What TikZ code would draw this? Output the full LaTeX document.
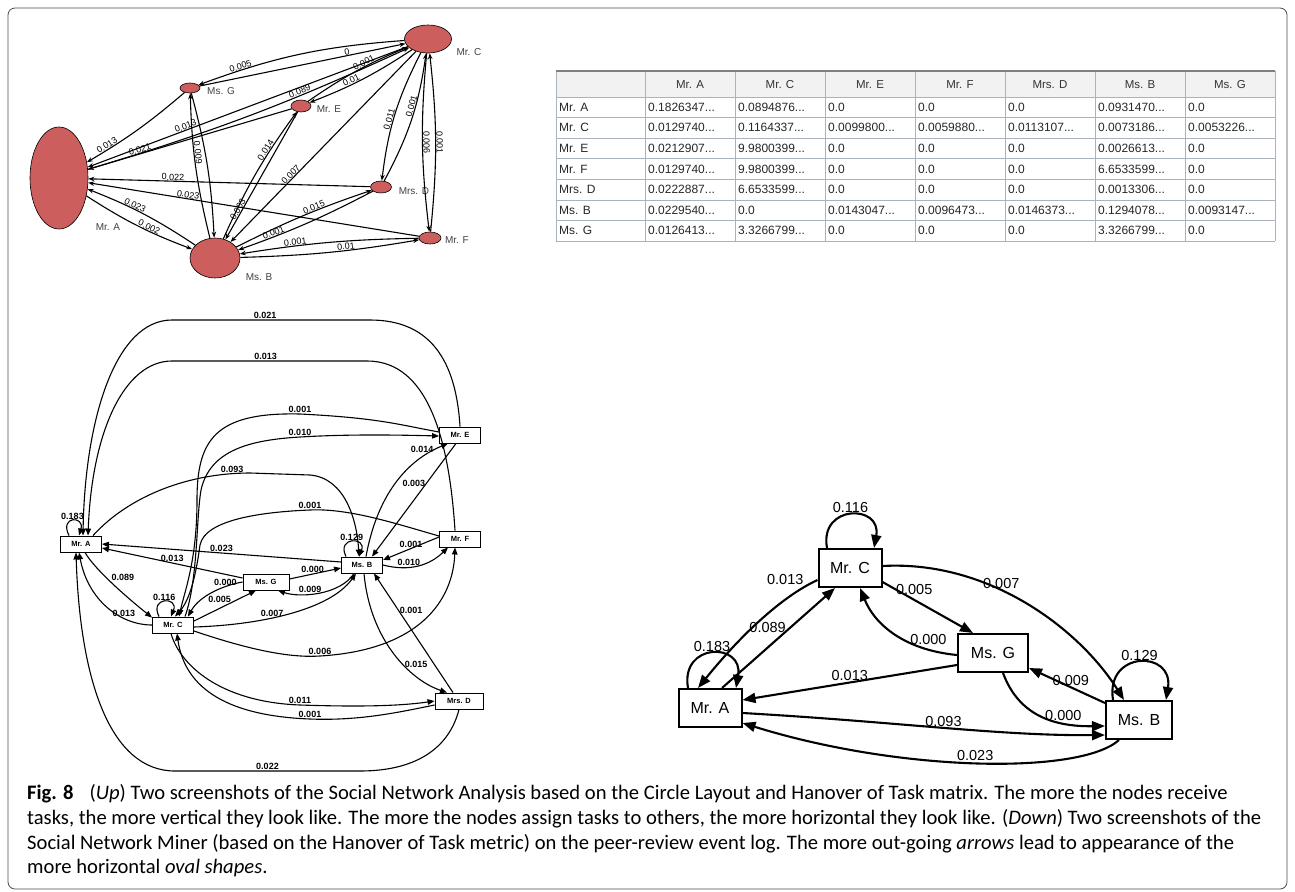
\documentclass[tikz,border=0pt]{standalone}
\usepackage{fontspec}
\setmainfont{Liberation Sans}
\newfontfamily\capfont{Carlito}
\usetikzlibrary{shapes.geometric,arrows.meta}
\definecolor{snared}{RGB}{205,94,94}
\definecolor{tgridc}{RGB}{170,178,188}
\newcommand\tdots{...}

\begin{document}
\begin{tikzpicture}[x=1pt,y=-1pt,
    sna/.style={ellipse,draw,fill=snared,inner sep=0pt,line width=0.6pt},
    snaname/.style={font=\fontsize{10}{10}\selectfont,text=black!75,inner sep=0pt},
    snaedge/.style={line width=1.1pt,-{Stealth[length=6pt,width=4.5pt]}},
    snalab/.style={sloped,above,font=\fontsize{9}{9}\selectfont,inner sep=0.3pt},
    thead/.style={font=\fontsize{11.5}{12}\selectfont,text=black!80,inner sep=0pt},
    tcell/.style={anchor=west,font=\fontsize{12}{12}\selectfont,text=black!85,inner sep=0pt},
    mbox/.style={draw,line width=0.9pt,minimum width=41,minimum height=16,inner sep=0pt,
      font=\bfseries\fontsize{7.5}{8}\selectfont},
    medge/.style={line width=1.1pt,-{Triangle[length=7pt,width=5.5pt]}},
    mlab/.style={font=\bfseries\fontsize{9}{9}\selectfont,inner sep=0.8pt},
    rbox/.style={draw,line width=2pt,minimum width=63,minimum height=38,inner sep=0pt,
      font=\fontsize{16}{16}\selectfont},
    redge/.style={line width=2.1pt,-{Triangle[length=13pt,width=10pt]}},
    rlab/.style={font=\fontsize{14.5}{15}\selectfont,inner sep=1pt},
    captext/.style={anchor=base west,inner sep=0pt,font=\capfont\fontsize{20.6}{24}\selectfont}]
  \useasboundingbox (0,0) rectangle (1295,891);
  \draw[black!70,line width=0.8pt,rounded corners=7pt] (8,8) rectangle (1287,889);

  % circle layout (up, left)
  \node[sna,minimum width=58,minimum height=102] (tA) at (59,178) {};
  \node[sna,minimum width=20,minimum height=10] (tG) at (190,88) {};
  \node[sna,minimum width=50,minimum height=40] (tB) at (215,258) {};
  \node[sna,minimum width=47,minimum height=28] (tC) at (428,39) {};
  \node[sna,minimum width=20,minimum height=12] (tE) at (301,106) {};
  \node[sna,minimum width=21,minimum height=12] (tD) at (381,187) {};
  \node[sna,minimum width=22,minimum height=12] (tF) at (430,238) {};
  \node[snaname] (tAn) at (108,227) {Mr. A};
  \node[snaname] (tGn) at (221,91) {Ms. G};
  \node[snaname] (tBn) at (259,277) {Ms. B};
  \node[snaname] (tCn) at (469,52) {Mr. C};
  \node[snaname] (tEn) at (329,109) {Mr. E};
  \node[snaname] (tDn) at (414,191) {Mrs. D};
  \node[snaname] (tFn) at (457,240) {Mr. F};
  \draw[snaedge] (tC) to[bend right=8] node[snalab,pos=.8] {0.005} (tG);
  \draw[snaedge] (tG) to[bend left=5] node[snalab,pos=.8] {0.013} (tA);
  \draw[snaedge] (tC) -- node[snalab,pos=.69] {0.013} (tA);
  \draw[snaedge] (tE) -- node[snalab,pos=.74] {0.021} (tA);
  \draw[snaedge] (tD) -- node[snalab,pos=.7] {0.022} (tA);
  \draw[snaedge] (tF) -- node[snalab,pos=.7] {0.023} (tA);
  \draw[snaedge] (tB) to[bend right=6] node[snalab,pos=.6] {0.023} (tA);
  \draw[snaedge] (tA) to[bend right=6] node[snalab,pos=.6] {0.002} (tB);
  \draw[snaedge] (tA) to[bend right=4] node[snalab,pos=.67] {0.089} (tC);
  \draw[snaedge] (tG) to[bend left=6] (tB);
  \draw[snaedge] (tB) to[bend left=6] node[snalab,pos=.6] {0.009} (tG);
  \draw[snaedge] (tC) to[bend left=6] node[snalab,pos=.6] {0.01} (tE);
  \draw[snaedge] (tE) to[bend left=6] node[snalab,pos=.6] {0.001} (tC);
  \draw[snaedge] (tG) -- node[snalab,pos=.72] {0} (tC);
  \draw[snaedge] (tB) to[bend left=6] node[snalab,pos=.68] {0.014} (tE);
  \draw[snaedge] (tE) -- node[snalab,pos=.78] {0.003} (tB);
  \draw[snaedge] (tC) -- node[snalab,pos=.66] {0.007} (tB);
  \draw[snaedge] (tC) to[bend right=10] node[snalab,pos=.55] {0.011} (tD);
  \draw[snaedge] (tD) to[bend right=10] node[snalab,pos=.6] {0.001} (tC);
  \draw[snaedge] (tC) to[bend right=6] node[snalab,pos=.5] {0.006} (tF);
  \draw[snaedge] (tF) to[bend right=6] node[snalab,pos=.5] {0.001} (tC);
  \draw[snaedge] (tB) to[bend left=4] node[snalab,pos=.6] {0.015} (tD);
  \draw[snaedge] (tD) to[bend left=4] node[snalab,pos=.75] {0.001} (tB);
  \draw[snaedge] (tB) to[bend right=4] node[snalab,pos=.6] {0.01} (tF);
  \draw[snaedge] (tF) to[bend right=4] node[snalab,pos=.7] {0.001} (tB);

  % handover matrix
  \fill[gray!10] (556,71) rectangle (1275,97);
  \foreach \x in {556,645,735,825,915,1005,1095,1185,1275}
    \draw[tgridc,line width=0.7pt] (\x,71) -- (\x,241);
  \foreach \k in {0,...,7}
    \draw[tgridc,line width=0.7pt] (556,97+20.57*\k) -- (1275,97+20.57*\k);
  \draw[gray,line width=1.6pt] (556,71) -- (1275,71);
  \foreach \h [count=\c] in {Mr. A,Mr. C,Mr. E,Mr. F,Mrs. D,Ms. B,Ms. G}
    \node[thead] (hd\c) at (600+90*\c,85) {\h};
  \foreach \rn/\vals [count=\r] in {
      Mr. A/{0.1826347\tdots,0.0894876\tdots,0.0,0.0,0.0,0.0931470\tdots,0.0},
      Mr. C/{0.0129740\tdots,0.1164337\tdots,0.0099800\tdots,0.0059880\tdots,0.0113107\tdots,0.0073186\tdots,0.0053226\tdots},
      Mr. E/{0.0212907\tdots,9.9800399\tdots,0.0,0.0,0.0,0.0026613\tdots,0.0},
      Mr. F/{0.0129740\tdots,9.9800399\tdots,0.0,0.0,0.0,6.6533599\tdots,0.0},
      Mrs. D/{0.0222887\tdots,6.6533599\tdots,0.0,0.0,0.0,0.0013306\tdots,0.0},
      Ms. B/{0.0229540\tdots,0.0,0.0143047\tdots,0.0096473\tdots,0.0146373\tdots,0.1294078\tdots,0.0093147\tdots},
      Ms. G/{0.0126413\tdots,3.3266799\tdots,0.0,0.0,0.0,3.3266799\tdots,0.0}}{
    \node[tcell] (rh\r) at (559,86.7+20.57*\r) {\rn};
    \foreach \v [count=\c] in \vals
      \node[tcell] (cell-\r-\c) at (558+90*\c,86.7+20.57*\r) {\v};
  }

  % social network miner (down, left)
  \node[mbox] (bA) at (81,544) {Mr. A};
  \node[mbox] (bC) at (173,625) {Mr. C};
  \node[mbox,minimum width=46] (bG) at (266,582) {Ms. G};
  \node[mbox] (bB) at (362,565) {Ms. B};
  \node[mbox] (bF) at (460,539) {Mr. F};
  \node[mbox,minimum width=48] (bD) at (459,701) {Mrs. D};
  \node[mbox] (bE) at (460,435) {Mr. E};
  \draw[medge] ([xshift=-12]bA.north) .. controls +(-10,-20) and +(6,-20) .. ([xshift=-2]bA.north)
    node[mlab,pos=.5,above] {0.183};
  \draw[medge] ([xshift=-14]bC.north) .. controls +(-10,-20) and +(8,-20) .. ([xshift=-2]bC.north)
    node[mlab,pos=.5,above] {0.116};
  \draw[medge] ([xshift=-16]bB.north) .. controls +(-10,-20) and +(8,-20) .. ([xshift=-3]bB.north)
    node[mlab,pos=.5,above] {0.129};
  \draw[medge] (bE.north) .. controls (456,360) and (430,320) .. (370,320)
    -- node[mlab,above,pos=.53] {0.021} (172,320) .. controls (115,320) and (85,420) .. ([xshift=2]bA.north);
  \draw[medge] ([xshift=-5]bF.north) .. controls (448,420) and (420,361) .. (367,361)
    -- node[mlab,above,pos=.52] {0.013} (172,361) .. controls (125,361) and (92,430) .. ([xshift=7]bA.north);
  \draw[medge] ([xshift=12]bA.north) .. controls (130,495) and (190,473) .. (250,473)
    node[mlab,above,pos=.9] {0.093} -- (310,475) .. controls (345,478) and (357,520) .. ([xshift=-3]bB.north);
  \draw[medge] ([yshift=3]bE.west) .. controls (400,425) and (380,418) .. (300,414)
    node[mlab,above] {0.001} .. controls (215,412) and (197,440) .. (197,500)
    .. controls (197,560) and (185,590) .. ([xshift=6]bC.north);
  \draw[medge] ([xshift=12]bC.north) .. controls (198,580) and (196,520) .. (201,490)
    .. controls (210,450) and (250,440) .. (300,437) node[mlab,above] {0.010}
    .. controls (350,434) and (400,435) .. ([yshift=-1]bE.west);
  \draw[medge] ([yshift=3]bF.west) .. controls (400,525) and (350,508) .. (310,510)
    node[mlab,above] {0.001} .. controls (260,512) and (205,520) .. (200,545)
    .. controls (196,575) and (190,600) .. ([xshift=2]bC.north);
  \draw[medge] ([yshift=3]bB.west) -- node[mlab,above,pos=.5] {0.023} (bA.east);
  \draw[medge] ([yshift=4]bG.west) -- node[mlab,above,pos=.5] {0.013} ([yshift=-4]bA.east);
  \draw[medge] ([xshift=4]bA.south) .. controls (95,570) and (130,600) .. ([yshift=-1]bC.north west)
    node[mlab,pos=.45,anchor=south west] {0.089};
  \draw[medge] (bC.west) .. controls (120,625) and (88,600) .. ([xshift=-2]bA.south)
    node[mlab,pos=.3,above] {0.013};
  \draw[medge] (bD.south) .. controls (450,745) and (420,771) .. (360,771)
    -- node[mlab,above,pos=.5] {0.022} (175,771) .. controls (110,771) and (80,680) .. ([xshift=-5]bA.south);
  \draw[medge] ([yshift=4]bC.east) -- node[mlab,pos=.6,above left=-1pt] {0.005} ([xshift=-10]bG.south);
  \draw[medge] (bG.west) .. controls (225,585) and (200,595) .. ([xshift=-6]bC.north east)
    node[mlab,pos=.3,above] {0.000};
  \draw[medge] ([yshift=-2]bC.east) .. controls (260,625) and (330,610) .. ([xshift=-6]bB.south)
    node[mlab,pos=.4,above] {0.007};
  \draw[medge] ([yshift=-6]bC.east) .. controls (250,650) and (290,658) .. (320,656)
    node[mlab,above] {0.006} .. controls (420,650) and (453,600) .. ([xshift=-5]bF.south);
  \draw[medge] ([xshift=-2]bC.south) .. controls (180,665) and (220,702) .. (300,705)
    node[mlab,above] {0.011} .. controls (360,707) and (400,706) .. (bD.west);
  \draw[medge] ([yshift=-4]bD.west) .. controls (400,712) and (360,721) .. (310,719)
    node[mlab,above] {0.001} .. controls (230,716) and (185,690) .. ([xshift=4]bC.south);
  \draw[medge] ([yshift=3]bG.east) -- node[mlab,above,pos=.45] {0.000} ([yshift=-3]bB.west);
  \draw[medge] ([xshift=-8]bB.south) .. controls (340,595) and (300,598) .. ([xshift=12]bG.south)
    node[mlab,pos=.6,above] {0.009};
  \draw[medge] (bB.east) .. controls (410,572) and (430,565) .. ([xshift=-12]bF.south)
    node[mlab,pos=.35,above] {0.010};
  \draw[medge] ([yshift=2]bF.west) -- node[mlab,above,pos=.5] {0.001} ([yshift=5]bB.east);
  \draw[medge] ([xshift=2]bB.south) .. controls (370,640) and (410,680) .. ([xshift=-12]bD.north)
    node[mlab,pos=.6,right] {0.015};
  \draw[medge] ([xshift=-6]bD.north) -- node[mlab,pos=.69,right] {0.001} ([xshift=12]bB.south);
  \draw[medge] ([xshift=4]bB.north) .. controls (380,480) and (420,455) .. ([xshift=-12]bE.south)
    node[mlab,pos=.85,left] {0.014};
  \draw[medge] ([xshift=-4]bE.south) -- node[mlab,pos=.35,left] {0.003} ([xshift=10]bB.north);

  % social network miner (down, right)
  \node[rbox] (rC) at (850,568) {Mr. C};
  \node[rbox] (rA) at (710,708) {Mr. A};
  \node[rbox,minimum width=70] (rG) at (993,653) {Ms. G};
  \node[rbox,minimum width=66] (rB) at (1139,720) {Ms. B};
  \draw[redge] ([xshift=-23]rC.north) .. controls +(-8,-44) and +(8,-44) .. ([xshift=24]rC.north)
    node[rlab,pos=.5,above] {0.116};
  \draw[redge] ([xshift=-22]rA.north) .. controls +(-8,-46) and +(8,-46) .. ([xshift=26]rA.north)
    node[rlab,pos=.5,above] {0.183};
  \draw[redge] ([xshift=-26]rB.north) .. controls +(-8,-50) and +(8,-50) .. ([xshift=27]rB.north)
    node[rlab,pos=.5,above] {0.129};
  \draw[redge] ([yshift=-12]rC.west) .. controls (785,595) and (745,630) .. ([xshift=-12]rA.north)
    node[rlab,pos=.12,anchor=south east] {0.013};
  \draw[redge] ([xshift=12]rA.north) -- node[rlab,pos=.6,left=2pt] {0.089} ([xshift=-15]rC.south);
  \draw[redge] ([yshift=-12]rG.west) -- node[rlab,pos=.5,above] {0.013} ([yshift=8]rA.east);
  \draw[redge] ([yshift=-5]rA.east) .. controls (900,722) and (1000,736) .. ([yshift=-15]rB.west)
    node[rlab,pos=.5,above=-1pt] {0.093};
  \draw[redge] ([xshift=-20]rB.south) .. controls (1080,775) and (900,772) .. ([yshift=-15]rA.east)
    node[rlab,pos=.5,above] {0.023};
  \draw[redge] ([yshift=-14]rC.east) -- node[rlab,pos=.35,above=3pt] {0.005} ([xshift=-20]rG.north);
  \draw[redge] ([yshift=-2]rG.west) .. controls (905,650) and (875,625) .. ([xshift=10]rC.south)
    node[rlab,pos=.2,above=3pt] {0.000};
  \draw[redge] ([yshift=2]rC.east) .. controls (990,560) and (1080,630) .. ([xshift=-15]rB.north)
    node[rlab,pos=.4,above] {0.007};
  \draw[redge] ([yshift=17]rB.west) -- node[rlab,pos=.45,above] {0.009} ([yshift=-15]rG.east);
  \draw[redge] ([xshift=10]rG.south) .. controls (1015,705) and (1040,727) .. ([yshift=-6]rB.west)
    node[rlab,pos=.75,above] {0.000};

  % caption
  \node[captext] (cap1) at (27,799) {\textbf{Fig. 8}\hspace{0.55em} (\textit{Up}) Two screenshots of the Social Network Analysis based on the Circle Layout and Hanover of Task matrix. The more the nodes receive};
  \node[captext] (cap2) at (27,824) {tasks, the more vertical they look like. The more the nodes assign tasks to others, the more horizontal they look like. (\textit{Down}) Two screenshots of the};
  \node[captext] (cap3) at (27,849) {Social Network Miner (based on the Hanover of Task metric) on the peer-review event log. The more out-going \textit{arrows} lead to appearance of the};
  \node[captext] (cap4) at (27,873) {more horizontal \textit{oval shapes}.};
\end{tikzpicture}
\end{document}
